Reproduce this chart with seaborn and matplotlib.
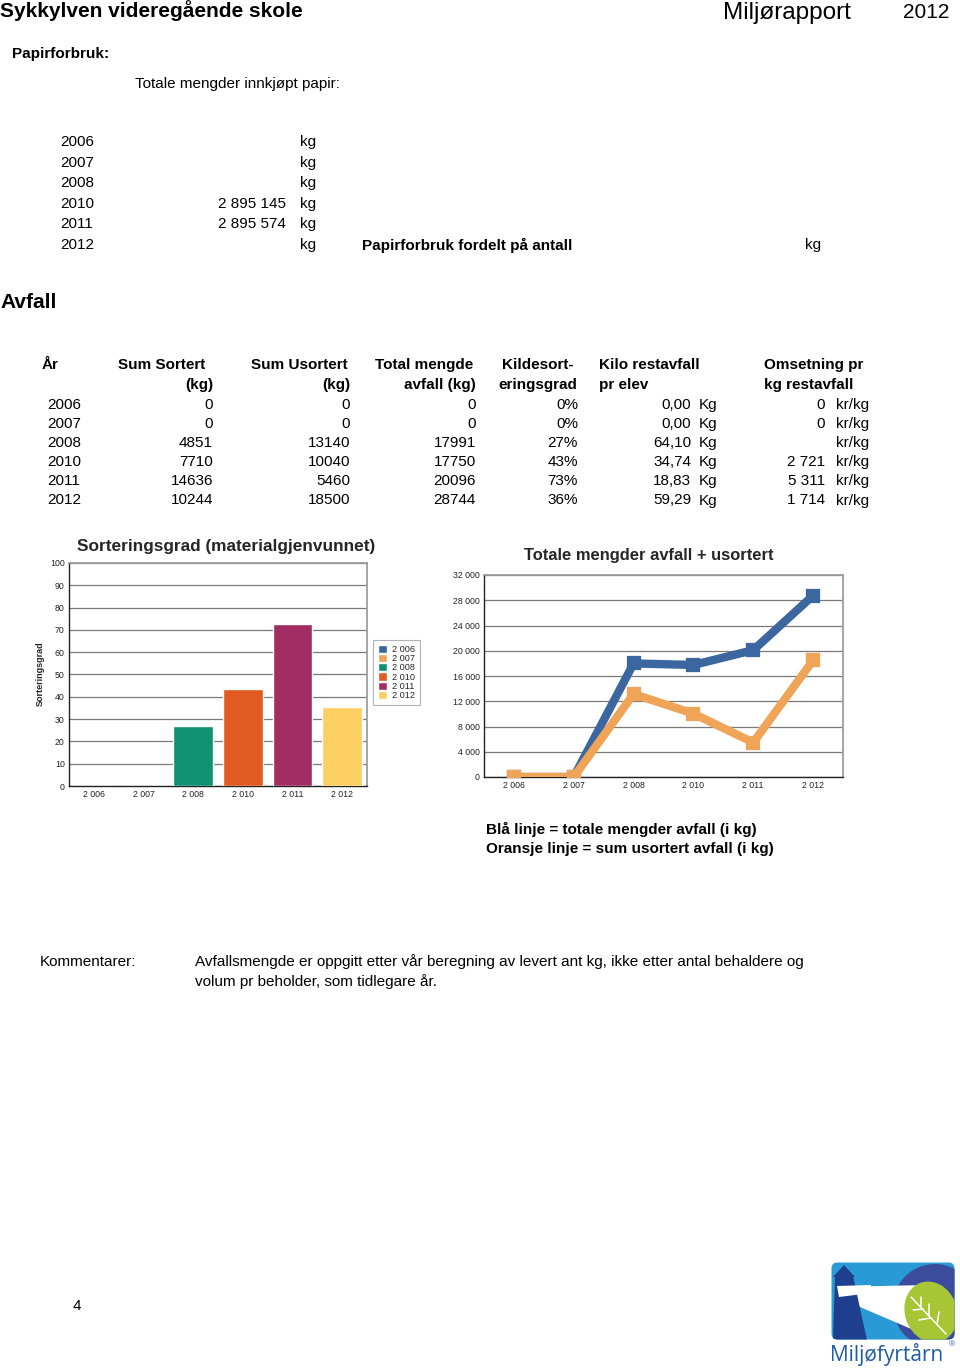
import matplotlib
matplotlib.use("Agg")
import matplotlib.pyplot as plt
import matplotlib.patches as mpatches
from matplotlib.ticker import FuncFormatter, MultipleLocator
import pandas as pd
import seaborn as sns

# --- data -----------------------------------------------------------------
years = ["2006", "2007", "2008", "2010", "2011", "2012"]

papir_kg = ["", "", "", "2 895 145", "2 895 574", ""]

sum_sortert = [0, 0, 4851, 7710, 14636, 10244]
sum_usortert = [0, 0, 13140, 10040, 5460, 18500]
total_avfall = [0, 0, 17991, 17750, 20096, 28744]
kildesort_pct = [0, 0, 27, 43, 73, 36]
kilo_rest_elev = [0.00, 0.00, 64.10, 34.74, 18.83, 59.29]
omsetning_kg = ["0", "0", "", "2 721", "5 311", "1 714"]

# stolpene i diagrammet (sorteringsgrad i %)
sorteringsgrad = [0, 0, 27.0, 43.4, 72.8, 35.6]
bar_colors = ["#3b64a2", "#f2a35a", "#0f9172", "#e05a22", "#a22d62", "#fccf63"]

line_series = ["Totale mengder avfall", "Sum usortert"]
line_colors = ["#3c66a0", "#f0a458"]

W, H = 960, 1371
FONT = ["Liberation Sans", "DejaVu Sans"]

sns.set_theme(style="white")
plt.rcParams["font.family"] = FONT

fig = plt.figure(figsize=(W / 100, H / 100), dpi=100)


def fx(x):
    return x / W


def fy(y):
    return 1 - y / H


def t(x, y, s, size=11, ha="left", bold=False, **kw):
    fig.text(fx(x), fy(y), s, fontsize=size, ha=ha, va="center",
             fontweight="bold" if bold else "normal", color="black", **kw)


def axes_px(left, top, right, bottom):
    return fig.add_axes([fx(left), fy(bottom), (right - left) / W, (bottom - top) / H])


def thousands(v, _pos=None):
    return f"{int(v):,}".replace(",", " ")


# --- header ---------------------------------------------------------------
t(0, 11, "Sykkylven videregående skole", size=15, bold=True)
t(723, 13, "Miljørapport", size=17.5)
t(903, 13, "2012", size=15)

t(12, 54, "Papirforbruk:", bold=True)
t(135, 84, "Totale mengder innkjøpt papir:")

for i, yr in enumerate(years):
    yy = 142 + i * 20.6
    t(60, yy, yr)
    if papir_kg[i]:
        t(286, yy, papir_kg[i], ha="right")
    t(300, yy, "kg")
t(362, 245, "Papirforbruk fordelt på antall", bold=True)
t(805, 245, "kg")

# --- avfall table ---------------------------------------------------------
t(0, 303, "Avfall", size=15, bold=True)

t(42, 365, "År", bold=True)
t(118, 365, "Sum Sortert", bold=True)
t(213, 385, "(kg)", ha="right", bold=True)
t(251, 365, "Sum Usortert", bold=True)
t(350, 385, "(kg)", ha="right", bold=True)
t(375, 365, "Total mengde", bold=True)
t(476, 385, "avfall (kg)", ha="right", bold=True)
t(502, 365, "Kildesort-", bold=True)
t(498, 385, "eringsgrad", bold=True)
t(599, 365, "Kilo restavfall", bold=True)
t(599, 385, "pr elev", bold=True)
t(764, 365, "Omsetning pr", bold=True)
t(764, 385, "kg restavfall", bold=True)

for i, yr in enumerate(years):
    yy = 405 + i * 19.1
    t(47, yy, yr)
    t(213, yy, str(sum_sortert[i]), ha="right")
    t(350, yy, str(sum_usortert[i]), ha="right")
    t(476, yy, str(total_avfall[i]), ha="right")
    t(578, yy, f"{kildesort_pct[i]}%", ha="right")
    t(691, yy, f"{kilo_rest_elev[i]:.2f}".replace(".", ","), ha="right")
    t(699, yy, "Kg")
    if omsetning_kg[i]:
        t(825, yy, omsetning_kg[i], ha="right")
    t(836, yy, "kr/kg")

# --- bar chart: sorteringsgrad --------------------------------------------
tick_years = [thousands(int(y)) for y in years]
bar_df = pd.DataFrame({"aar": tick_years, "grad": sorteringsgrad})

ax1 = axes_px(69, 563, 367, 786)
sns.barplot(data=bar_df, x="aar", y="grad", hue="aar", palette=bar_colors,
            width=0.8, saturation=1, legend=True, ax=ax1, zorder=3)
ax1.set_ylim(0, 100)
ax1.yaxis.set_major_locator(MultipleLocator(10))
ax1.grid(axis="y", color="#7a7a7a", linewidth=0.9, zorder=0)
ax1.set_axisbelow(True)
ax1.set_xlabel("")
ax1.set_ylabel("")
ax1.tick_params(axis="both", labelsize=6.3, length=0, pad=3, colors="#222222")
for side in ["top", "right"]:
    ax1.spines[side].set_color("#9a9a9a")
for side in ["left", "bottom"]:
    ax1.spines[side].set_color("#222222")
    ax1.spines[side].set_linewidth(1.0)

leg = ax1.legend(loc="upper left", bbox_to_anchor=(fx(373), fy(640)),
                 bbox_transform=fig.transFigure, fontsize=6.6, frameon=True,
                 fancybox=False, handlelength=1.0, handleheight=1.0,
                 handletextpad=0.6, labelspacing=0.0, borderpad=0.5,
                 borderaxespad=0)
leg.get_frame().set_edgecolor("#a0a0a0")
leg.get_frame().set_linewidth(0.8)

fig.text(fx(226), fy(546), "Sorteringsgrad (materialgjenvunnet)", fontsize=12.4,
         fontweight="bold", ha="center", va="center")
fig.text(fx(40), fy(674), "Sorteringsgrad", fontsize=6.5, fontweight="bold",
         rotation=90, ha="center", va="center")

# --- line chart: totale mengder -------------------------------------------
line_df = pd.DataFrame({
    "aar": tick_years * 2,
    "kg": total_avfall + sum_usortert,
    "serie": [line_series[0]] * len(years) + [line_series[1]] * len(years),
})

ax2 = axes_px(484, 575, 843, 777)
sns.pointplot(data=line_df, x="aar", y="kg", hue="serie", palette=line_colors,
              markers="s", linestyles="-", linewidth=6.0, markersize=6.0,
              legend=False, ax=ax2, zorder=3)
ax2.set_xlim(-0.5, 5.5)
ax2.set_ylim(0, 32000)
ax2.yaxis.set_major_locator(MultipleLocator(4000))
ax2.yaxis.set_major_formatter(FuncFormatter(thousands))
ax2.grid(axis="y", color="#7a7a7a", linewidth=0.9, zorder=0)
ax2.grid(axis="x", visible=False)
ax2.set_axisbelow(True)
ax2.set_xlabel("")
ax2.set_ylabel("")
ax2.tick_params(axis="both", labelsize=6.3, length=0, pad=3, colors="#222222")
for side in ["top", "right"]:
    ax2.spines[side].set_color("#9a9a9a")
for side in ["left", "bottom"]:
    ax2.spines[side].set_color("#222222")
    ax2.spines[side].set_linewidth(1.0)

fig.text(fx(649), fy(556), "Totale mengder avfall + usortert", fontsize=11.9,
         fontweight="bold", ha="center", va="center")

t(486, 829, "Blå linje = totale mengder avfall (i kg)", bold=True)
t(486, 849, "Oransje linje = sum usortert avfall (i kg)", bold=True)

# --- comments ------------------------------------------------------------
t(40, 962, "Kommentarer:")
t(195, 962, "Avfallsmengde er oppgitt etter vår beregning av levert ant kg, ikke etter antal behaldere og")
t(195, 982, "volum pr beholder, som tidlegare år.")

t(73, 1306, "4")

# --- logo (Miljøfyrtårn) ---------------------------------------------------
lax = axes_px(831, 1262, 955, 1340)
lax.set_xlim(0, 124)
lax.set_ylim(78, 0)
lax.axis("off")
box = mpatches.FancyBboxPatch((0.5, 0.5), 123, 77, boxstyle="round,pad=0,rounding_size=6",
                              facecolor="#2a9ad6", edgecolor="none")
lax.add_patch(box)
shapes = [
    mpatches.Circle((104, 44), 42, facecolor="#3b4c9e", edgecolor="none"),
    mpatches.Polygon([(6, 25), (95, 23), (92, 72), (8, 36)], closed=True,
                     facecolor="white", edgecolor="none"),
    mpatches.Ellipse((100, 50), 52, 62, angle=-20, facecolor="#a7c535", edgecolor="none"),
    mpatches.Polygon([(4, 14), (22, 14), (36, 78), (2, 78)], closed=True,
                     facecolor="#1d3f8e", edgecolor="none"),
    mpatches.Polygon([(2, 15), (24, 15), (13, 3)], closed=True,
                     facecolor="#1d3f8e", edgecolor="none"),
    mpatches.Polygon([(6, 24), (40, 23), (40, 31), (8, 35)], closed=True,
                     facecolor="white", edgecolor="none"),
]
for p in shapes:
    lax.add_patch(p)
    p.set_clip_path(box)
for (x0, y0, x1, y1) in [(80, 35, 115, 72), (90, 45, 90, 35), (98, 54, 98, 42),
                         (106, 62, 108, 50), (92, 47, 82, 48), (100, 56, 88, 58)]:
    ln = lax.plot([x0, x1], [y0, y1], color="white", linewidth=1.1)[0]
    ln.set_clip_path(box)

fig.text(fx(830), fy(1355), "Miljøfyrtårn", fontsize=15, color="#1f5ba6",
         family=["Open Sans", "DejaVu Sans"], ha="left", va="center")
fig.text(fx(949), fy(1345), "®", fontsize=6, color="#1f5ba6", ha="left", va="center")

fig.savefig("out.png", dpi=100, facecolor="white")
